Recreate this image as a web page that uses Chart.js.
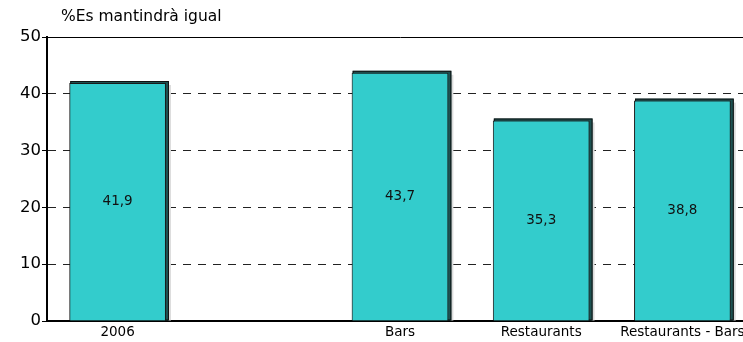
<!DOCTYPE html>
<html>
<head>
<meta charset="utf-8">
<script src="https://cdn.jsdelivr.net/npm/chart.js@4"></script>
<style>
  html, body { margin: 0; padding: 0; background: #fff; overflow: hidden; }
  #wrap { width: 756px; height: 342px; }
</style>
</head>
<body>
<div id="wrap"><canvas id="grafic" width="756" height="342"></canvas></div>
<script>
// dades del gràfic
const titol = "%Es mantindrà igual";
const categories = ["2006", "", "Bars", "Restaurants", "Restaurants - Bars"];
const valors = [41.9, null, 43.7, 35.3, 38.8];
const ticksY = [0, 10, 20, 30, 40, 50];

const colorBarra = "#33CCCC";
const colorOmbra = "#1d5252";
const font = "'DejaVu Sans', Verdana, sans-serif";

// ombra 3D i etiquetes de valor
const pluginBarres = {
    id: "barres",
    beforeDatasetsDraw(chart) {
        const ctx = chart.ctx;
        chart.getDatasetMeta(0).data.forEach((bar, i) => {
            if (valors[i] == null) return;
            const left = bar.x - bar.width / 2;
            const right = bar.x + bar.width / 2;
            ctx.save();
            ctx.fillStyle = "#dcdcdc";
            ctx.fillRect(right + 2, bar.y + 2, 3, bar.base - bar.y - 2);
            ctx.fillStyle = colorOmbra;
            ctx.fillRect(left + 1, bar.y - 2, bar.width + 2, bar.base - bar.y + 2);
            ctx.strokeStyle = "#111";
            ctx.lineWidth = 1;
            ctx.strokeRect(left + 1.5, bar.y - 1.5, bar.width + 1, bar.base - bar.y + 1);
            ctx.restore();
        });
    },
    afterDatasetsDraw(chart) {
        const ctx = chart.ctx;
        ctx.save();
        ctx.fillStyle = "#111";
        ctx.font = "13.5px " + font;
        ctx.textAlign = "center";
        ctx.textBaseline = "middle";
        chart.getDatasetMeta(0).data.forEach((bar, i) => {
            if (valors[i] == null) return;
            ctx.fillText(valors[i].toFixed(1).replace(".", ","), bar.x, (bar.y + bar.base) / 2);
        });
        ctx.restore();
    },
    afterDraw(chart) {
        const ctx = chart.ctx;
        ctx.save();
        ctx.fillStyle = "#000";
        ctx.font = "15.5px " + font;
        ctx.textBaseline = "middle";
        ctx.fillText(titol, chart.chartArea.left + 14, 17);
        ctx.restore();
    }
};

new Chart(document.getElementById("grafic").getContext("2d"), {
    type: "bar",
    data: {
        labels: categories,
        datasets: [{
            data: valors,
            backgroundColor: colorBarra,
            borderColor: "#1a1a1a",
            borderWidth: 1,
            barPercentage: 0.685,
            categoryPercentage: 1
        }]
    },
    options: {
        responsive: false,
        animation: false,
        layout: { padding: { top: 37, right: 3, left: 0, bottom: 0 } },
        plugins: {
            legend: { display: false },
            title: { display: false },
            tooltip: { enabled: false }
        },
        scales: {
            x: {
                afterFit(scale) { scale.height = 21; },
                grid: { display: false, drawTicks: false },
                border: { display: true, color: "#000", width: 2 },
                ticks: {
                    color: "#000",
                    padding: 3,
                    maxRotation: 0,
                    autoSkip: false,
                    font: { family: font, size: 13.5 }
                }
            },
            y: {
                min: 0,
                max: 50,
                afterFit(scale) { scale.width = 47; },
                afterBuildTicks(scale) { scale.ticks = ticksY.map(v => ({ value: v })); },
                grid: {
                    color: ctx => ctx.tick && ctx.tick.value === 50 ? "#000" : "#222",
                    lineWidth: 1,
                    tickLength: 5,
                    tickColor: "#000"
                },
                border: {
                    display: true,
                    color: "#000",
                    width: 2,
                    dash: ctx => (ctx.type === "tick" && ctx.tick.value !== 50) ? [8, 7] : []
                },
                ticks: {
                    color: "#000",
                    padding: 1,
                    font: { family: font, size: 16.5 }
                }
            }
        }
    },
    plugins: [pluginBarres]
});
</script>
</body>
</html>
